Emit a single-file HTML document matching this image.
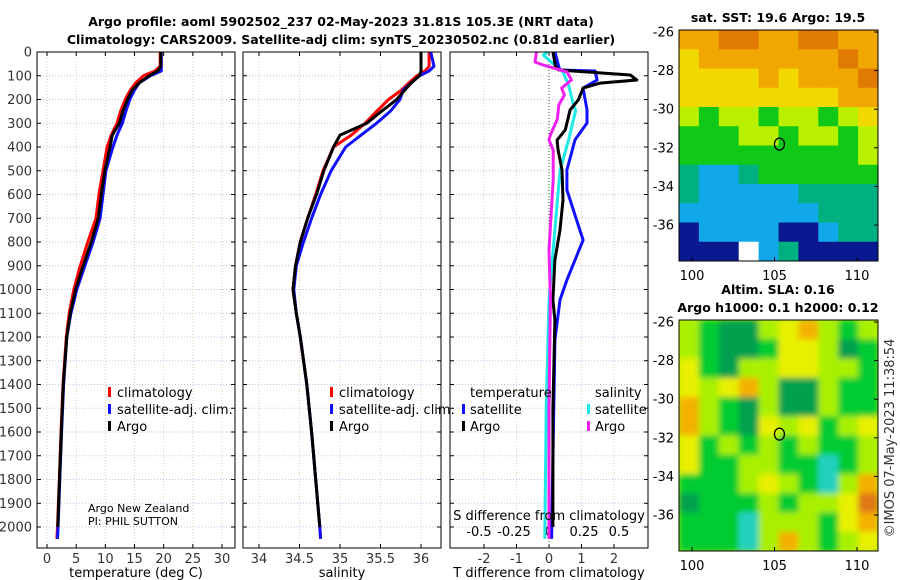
<!DOCTYPE html>
<html><head><meta charset="utf-8"><style>
body{margin:0;background:#fff;}
svg{display:block;font-family:"DejaVu Sans","Liberation Sans",sans-serif;}
.t{font-size:13px;fill:#333;}
.b{font-size:12.5px;font-weight:bold;fill:#000;}
</style></head><body>
<svg id="c" width="900" height="580" viewBox="0 0 900 580">
<defs>
<filter id="blur" x="-5%" y="-5%" width="110%" height="110%"><feGaussianBlur stdDeviation="3"/></filter>
<clipPath id="clipSla"><rect x="679" y="320" width="199" height="231"/></clipPath>
</defs>
<text class="b" x="341" y="26" text-anchor="middle">Argo profile: aoml 5902502_237 02-May-2023 31.81S 105.3E (NRT data)</text>
<text class="b" x="341" y="44" text-anchor="middle">Climatology: CARS2009. Satellite-adj clim: synTS_20230502.nc (0.81d earlier)</text>
<text class="b" x="778" y="22" text-anchor="middle">sat. SST: 19.6 Argo: 19.5</text>
<text class="b" x="778" y="294" text-anchor="middle">Altim. SLA: 0.16</text>
<text class="b" x="778" y="312" text-anchor="middle">Argo h1000: 0.1 h2000: 0.12</text>
<text class="t" transform="translate(894,438) rotate(-90)" text-anchor="middle">©IMOS 07-May-2023 11:38:54</text>
<g id="plots"></g>
</svg>
<script>
const depthTicks = [0,100,200,300,400,500,600,700,800,900,1000,1100,1200,1300,1400,1500,1600,1700,1800,1900,2000];
const tTicks = [0,5,10,15,20,25,30];
const sTicks = [34,34.5,35,35.5,36];
const sTickLabels = ["34","34.5","35","35.5","36"];
const dtTicks = [-2,-1,0,1,2];
const dsTicks = [-0.5,-0.25,0,0.25,0.5];
const dsTickLabels = ["-0.5","-0.25","0","0.25","0.5"];

const profDepth = [0,60,80,100,130,160,200,250,300,350,400,500,600,700,800,900,1000,1100,1200,1400,1600,1800,2000,2050];
const argoDepth = [0,60,80,100,130,160,200,250,300,350,400,500,600,700,800,900,1000,1100,1200,1400,1600,1800,2000];
const tClim = [19.4,19.4,18.5,16.5,15.2,14.3,13.4,12.6,12.0,11.0,10.3,9.6,8.9,8.4,7.0,5.7,4.6,3.8,3.3,2.75,2.4,2.1,1.8,1.7];
const tSat = [19.6,19.6,19.6,17.7,15.8,15.0,14.2,13.5,12.9,12.0,11.3,10.1,9.6,9.1,7.9,6.5,5.1,4.1,3.4,2.85,2.5,2.2,1.9,1.8];
const tArgo = [19.5,19.5,19.0,17.5,15.8,14.6,13.8,13.0,12.4,11.2,10.8,9.9,9.3,8.8,7.6,6.2,4.9,4.0,3.4,2.8,2.45,2.15,1.85];
const sClim = [36.1,36.1,36.05,35.95,35.85,35.76,35.6,35.45,35.31,35.14,34.92,34.79,34.7,34.6,34.51,34.45,34.42,34.46,34.51,34.59,34.65,34.7,34.75,34.76];
const sSat = [36.12,36.16,36.1,35.98,35.88,35.78,35.74,35.62,35.45,35.26,35.07,34.89,34.76,34.65,34.55,34.46,34.43,34.46,34.51,34.59,34.65,34.7,34.75,34.76];
const sArgo = [36.0,36.0,36.0,35.98,35.88,35.8,35.7,35.51,35.33,35.0,34.92,34.8,34.71,34.6,34.51,34.45,34.42,34.46,34.51,34.59,34.65,34.7,34.75];

const dtSatDepth = [0,76,80,118,152,244,299,370,497,581,792,960,1044,1213,2050];
const dtSat = [0.18,0.33,1.42,1.48,1.05,1.17,1.17,0.8,0.55,0.55,1.05,0.55,0.34,0.18,0.08];
const dtArgoDepth = [0,60,76,97,118,131,152,202,244,328,371,413,497,623,749,876,1044,1128,1500,2000];
const dtArgo = [0.12,0.2,0.3,2.5,2.7,1.57,1.05,0.9,0.65,0.5,0.25,0.28,0.4,0.43,0.34,0.18,0.12,0.18,0.12,0.12];
const dsSatDepth = [0,13,34,84,139,210,248,370,497,623,833,1044,1500,2050];
const dsSat = [-0.01,-0.04,0.0,0.1,0.14,0.17,0.19,0.14,0.08,0.06,0.03,0.0,-0.02,-0.03];
const dsArgoDepth = [0,42,55,84,118,152,181,223,282,349,370,413,539,833,1044,1500,2050];
const dsArgo = [-0.09,-0.1,-0.04,0.13,0.16,0.09,0.11,0.07,0.06,0.01,0,0.03,0.03,0,0.01,0,0];

const sstGrid = [
"OODDOODDOO","YOOOOOOODO","YYYYOYOOOD","YYYYYYYYOO",
"LGLLGLLGLY","GGGLLGLLGL","GGGGGGGGGL","TCCTGGGGGG",
"TCCCCCTTTT","CCCCCCCTTT","NCCCCNNCTT","NNNWCTNNNN"];
const slaGrid = [
"LGDDLYOLGL","LGDDGYYLDG","YGDLLYYLLG","YLYOLDDLGG",
"OLGDLDDLGG","OLGDYLYGLY","YGLGLGLGGL","YGGLLGGCGL",
"GGGLYLGCLO","DGGGLGLLYR","GGGCLLLGYO","GGGCLOLGLY"];
const mapLonTicks = [100,105,110];
const mapLatTicks = [-26,-28,-30,-32,-34,-36];
const argoLon = 105.3, argoLat = -31.81;

const NS="http://www.w3.org/2000/svg";
const root=document.getElementById('plots');
function mk(tag,attrs,parent){const e=document.createElementNS(NS,tag);for(const k in attrs)e.setAttribute(k,attrs[k]);(parent||root).appendChild(e);return e;}
const Y0=52,Y1=548;
const yD=d=>Y0+d*0.2375;
function linScale(v0,p0,v1,p1){return v=>p0+(v-v0)*(p1-p0)/(v1-v0);}

function panel(x0,x1,name,showY){
  const g=mk('g',{});
  
  
  depthTicks.forEach(d=>{
    const l=mk('line',{x1:x0,x2:x1,y1:yD(d),y2:yD(d),stroke:'#b8c4e8','stroke-dasharray':'1,2','stroke-width':1},g);
    
    
    const tk=mk('line',{x1:x0,x2:x0+4,y1:yD(d),y2:yD(d),stroke:'#000'},g);
    
    
    const tk2=mk('line',{x1:x1-4,x2:x1,y1:yD(d),y2:yD(d),stroke:'#000'},g);
    
    
    if(showY){const t=mk('text',{x:x0-5,y:yD(d)+4.5,'text-anchor':'end',class:'t'},g);t.textContent=d;
      
      }
  });
  return g;
}
function xticks(g,x0,x1,ticks,labels,sc,ly,name){
  ticks.forEach((v,i)=>{const x=sc(v);
    const l=mk('line',{x1:x,x2:x,y1:Y0,y2:Y1,stroke:'#e8c8b0','stroke-dasharray':'1,2'},g);
    
    
    const tk=mk('line',{x1:x,x2:x,y1:Y1-4,y2:Y1,stroke:'#000'},g);
    
    
    const tk2=mk('line',{x1:x,x2:x,y1:Y0,y2:Y0+4,stroke:'#000'},g);
    
    
    const t=mk('text',{x:x,y:ly,'text-anchor':'middle',class:'t'},g);t.textContent=labels[i];
    
    
  });
}
function frame(g,x0,x1){const r=mk('rect',{x:x0,y:Y0,width:x1-x0,height:Y1-Y0,fill:'none',stroke:'#000'},g);
  
  }
function series(g,depths,vals,sc,color,name){
  const n=Math.min(depths.length,vals.length);let d='';
  for(let i=0;i<n;i++)d+=(i?'L':'M')+sc(vals[i]).toFixed(1)+','+yD(depths[i]).toFixed(1);
  const p=mk('path',{d:d,fill:'none',stroke:color,'stroke-width':3,'stroke-linejoin':'round'},g);
  
  
}
function txt(g,x,y,s,name,anchor,size){const t=mk('text',{x:x,y:y,class:'t','text-anchor':anchor||'start',style:size?('font-size:'+size+'px;fill:#000'):'fill:#000'},g);t.textContent=s;
  
  return t;}
function legBar(g,x,y,color){const r=mk('rect',{x:x,y:y-10,width:3,height:10,fill:color},g);
  
  }

// Panel 1 temperature
const xT=linScale(0,47,30,222);
const g1=panel(37,235,'temperature-panel',true);
xticks(g1,37,235,tTicks,tTicks.map(String),xT,563,'temperature-tick-label');
series(g1,profDepth,tClim,xT,'#f00','temp-climatology-line');
series(g1,profDepth,tSat,xT,'#1010ff','temp-satellite-line');
series(g1,argoDepth,tArgo,xT,'#000','temp-argo-line');
frame(g1,37,235);
txt(g1,136,577,'temperature (deg C)','temperature-axis-title','middle');
[['climatology','#f00'],['satellite-adj. clim.','#1010ff'],['Argo','#000']].forEach((e,i)=>{legBar(g1,108,397+i*17,e[1]);txt(g1,117,397+i*17,e[0],'legend-entry');});
txt(g1,88,512,'Argo New Zealand','float-owner','start',11);
txt(g1,88,525,'PI: PHIL SUTTON','float-pi','start',11);

// Panel 2 salinity
const xS=linScale(34,259,36,421);
const g2=panel(243,441,'salinity-panel',false);
xticks(g2,243,441,sTicks,sTickLabels,xS,563,'salinity-tick-label');
series(g2,profDepth,sClim,xS,'#f00','sal-climatology-line');
series(g2,profDepth,sSat,xS,'#1010ff','sal-satellite-line');
series(g2,argoDepth,sArgo,xS,'#000','sal-argo-line');
frame(g2,243,441);
txt(g2,342,577,'salinity','salinity-axis-title','middle');
[['climatology','#f00'],['satellite-adj. clim.','#1010ff'],['Argo','#000']].forEach((e,i)=>{legBar(g2,330,397+i*17,e[1]);txt(g2,339,397+i*17,e[0],'legend-entry');});

// Panel 3 differences
const xDT=linScale(0,549,1,581.5);
const xDS=linScale(0,549,1,689);
const g3=panel(450,648,'difference-panel',false);
xticks(g3,450,648,dtTicks,dtTicks.map(String),xDT,563,'t-diff-tick-label');
dsTicks.forEach((v,i)=>{const t=txt(g3,xDS(v),536,dsTickLabels[i],'s-diff-tick-label','middle');});
const z=mk('line',{x1:549,x2:549,y1:Y0,y2:Y1,stroke:'#3a5a2a','stroke-dasharray':'1,2'},g3);


series(g3,dsSatDepth,dsSat,xDS,'#20e8e8','sal-diff-satellite-line');
series(g3,dtSatDepth,dtSat,xDT,'#1010ff','temp-diff-satellite-line');
series(g3,dtArgoDepth,dtArgo,xDT,'#000','temp-diff-argo-line');
series(g3,dsArgoDepth,dsArgo,xDS,'#f020f0','sal-diff-argo-line');
frame(g3,450,648);
txt(g3,549,520,'S difference from climatology','s-diff-axis-title','middle');
txt(g3,549,577,'T difference from climatology','t-diff-axis-title','middle');
txt(g3,470,397,'temperature','legend-heading');
txt(g3,595,397,'salinity','legend-heading');
[['satellite','#1010ff'],['Argo','#000']].forEach((e,i)=>{legBar(g3,462,414+i*17,e[1]);txt(g3,470,414+i*17,e[0],'legend-entry');});
[['satellite','#20e8e8'],['Argo','#f020f0']].forEach((e,i)=>{legBar(g3,587,414+i*17,e[1]);txt(g3,595,414+i*17,e[0],'legend-entry');});

// Maps
const colors={O:'#f0a800',D:'#e07a00',Y:'#f0d800',L:'#b8f000',G:'#10c818',T:'#00b080',C:'#10a8e8',N:'#0a1890',W:'#ffffff',R:'#e07000'};
const slaColors={O:'#f4b000',R:'#e07818',Y:'#e8f000',L:'#a8f000',G:'#00cc30',D:'#00a050',C:'#20d0c0'};
function map(top,grid,pal,name,smooth){
  const x0=679,x1=878,y1=top+231;
  const g=mk('g',{});
  
  
  const lon=linScale(100,692,110,857), lat=linScale(-26,top+2,-36,top+195);
  const rows=grid.length,cols=grid[0].length,cw=(x1-x0)/cols,ch=(y1-top)/rows;
  let cg=g;
  if(smooth){
    const outer=mk('g',{'clip-path':'url(#clipSla)'},g);
    
    
    const bg=mk('rect',{x:x0,y:top,width:x1-x0,height:y1-top,fill:'#b8f000'},outer);
    
    
    cg=mk('g',{filter:'url(#blur)'},outer);
    
    
  }
  grid.forEach((row,r)=>{for(let c=0;c<cols;c++){const e=mk('rect',{x:x0+c*cw,y:top+r*ch,width:cw+0.5,height:ch+0.5,fill:pal[row[c]]},cg);
    
    }});
  const f=mk('rect',{x:x0,y:top,width:x1-x0,height:y1-top,fill:'none',stroke:'#000'},g);
  
  
  mapLonTicks.forEach(v=>{const t=txt(g,lon(v),y1+19,String(v),'lon-tick-label','middle');
    const k=mk('line',{x1:lon(v),x2:lon(v),y1:y1-4,y2:y1,stroke:'#000'},g);
    
    });
  mapLatTicks.forEach(v=>{const t=txt(g,x0-5,lat(v)+4.5,String(v),'lat-tick-label','end');
    const k=mk('line',{x1:x1-4,x2:x1,y1:lat(v),y2:lat(v),stroke:'#000'},g);
    
    });
  const m=mk('ellipse',{cx:lon(argoLon),cy:lat(argoLat),rx:5,ry:6,fill:'none',stroke:'#000','stroke-width':1.3},g);
  
  
}
map(30,sstGrid,colors,'sst-map',false);
map(320,slaGrid,slaColors,'sla-map',true);
</script>
</body></html>
